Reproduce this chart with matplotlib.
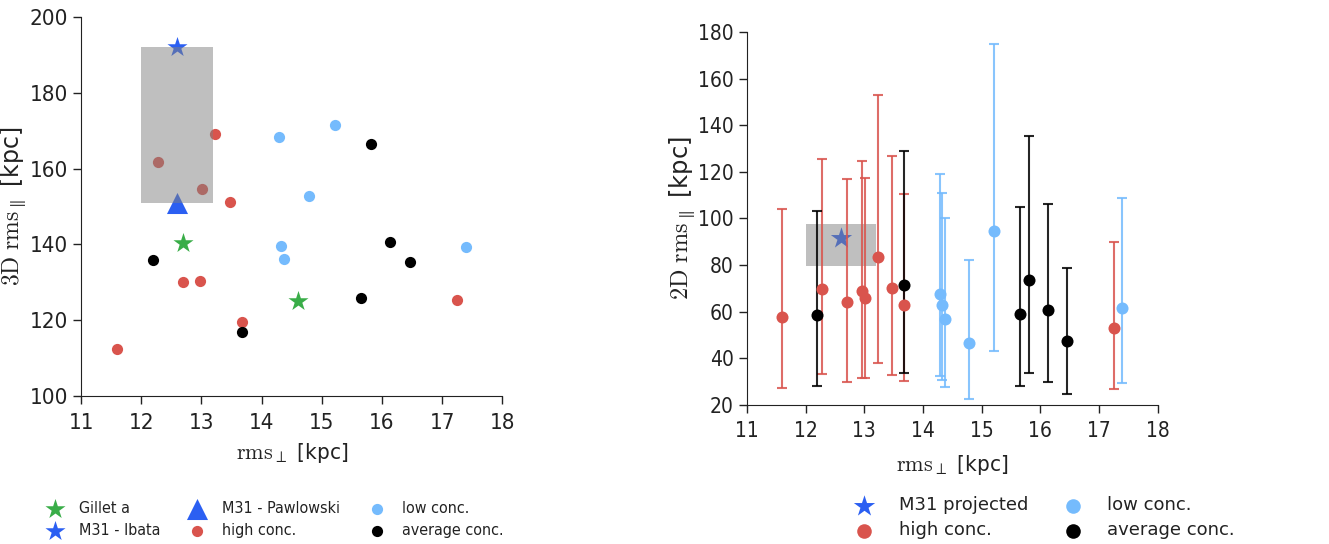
#plane of satellites: rms widths, 3D and projected
import matplotlib.pyplot as plt
from matplotlib.patches import Rectangle
from matplotlib.ticker import MultipleLocator

plt.rcParams['mathtext.fontset'] = 'cm'
plt.rcParams['font.family'] = 'DejaVu Sans'
plt.rcParams['text.color'] = '#222222'
plt.rcParams['axes.labelcolor'] = '#222222'
plt.rcParams['xtick.color'] = '#222222'
plt.rcParams['ytick.color'] = '#222222'

red = '#d9544d'
lblue = '#75bbfd'
green = '#39ad48'
blue = '#2b5ff2'

#observations
gillet_x = [12.70, 14.60]
gillet_y = [140.3, 125.1]
ibata_x = [12.6]
ibata_y = [192.0]
pawlowski_x = [12.6]
pawlowski_y = [151.0]
proj_x = [12.6]
proj_y = [91.4]

#observed range (x0, x1, y0, y1)
box_3d = [12.0, 13.2, 151.0, 192.0]
box_2d = [12.0, 13.2, 79.4, 97.4]

#simulations
high_x = [11.60, 12.28, 12.70, 12.97, 13.01, 13.23, 13.47, 13.68, 17.25]
high_3d = [112.5, 161.7, 130.0, 130.3, 154.6, 169.0, 151.3, 119.5, 125.3]
high_2d = [57.6, 69.9, 64.1, 68.7, 66.0, 83.3, 70.1, 62.7, 53.0]
high_2d_hi = [103.9, 125.3, 116.9, 124.7, 117.4, 153.1, 126.7, 110.4, 90.0]
high_2d_lo = [27.0, 33.0, 29.7, 31.6, 31.4, 38.0, 32.7, 30.1, 26.9]

low_x = [14.29, 14.32, 14.37, 14.78, 15.22, 17.40]
low_3d = [168.2, 139.5, 136.2, 152.8, 171.5, 139.3]
low_2d = [67.6, 63.0, 57.0, 46.3, 94.7, 61.6]
low_2d_hi = [119.0, 111.1, 100.1, 82.1, 175.1, 108.9]
low_2d_lo = [32.4, 30.6, 27.7, 22.3, 43.0, 29.4]

avg_x = [12.19, 13.68, 15.65, 15.81, 16.13, 16.46]
avg_3d = [135.9, 116.9, 125.8, 166.5, 140.5, 135.4]
avg_2d = [58.4, 71.6, 59.1, 73.7, 60.7, 47.3]
avg_2d_hi = [103.3, 129.0, 104.9, 135.6, 106.0, 78.7]
avg_2d_lo = [27.9, 33.7, 28.1, 33.6, 29.6, 24.7]

fig = plt.figure(figsize=(13.29, 5.44), dpi=100)
ax1 = fig.add_axes([0.061, 0.272, 0.317, 0.697])
ax2 = fig.add_axes([0.562, 0.256, 0.309, 0.685])

def style(ax, tsize):
    for s in ['top', 'right']:
        ax.spines[s].set_visible(False)
    for s in ['left', 'bottom']:
        ax.spines[s].set_color('#222222')
    ax.tick_params(direction='out', length=6, width=1, labelsize=tsize, top=False, right=False)
    ax.tick_params(axis='x', pad=6)
    ax.set_xlim(11, 18)
    ax.xaxis.set_major_locator(MultipleLocator(1))
    for t in ax.get_xticklabels() + ax.get_yticklabels():
        t.set_fontstretch('condensed')

#left: 3D
ax1.scatter(gillet_x, gillet_y, marker='*', s=230, color=green, lw=0, label='Gillet a', zorder=2)
ax1.scatter(ibata_x, ibata_y, marker='*', s=230, color=blue, lw=0, label='M31 - Ibata', zorder=2)
ax1.scatter(pawlowski_x, pawlowski_y, marker='^', s=230, color=blue, lw=0, label='M31 - Pawlowski', zorder=2)
ax1.scatter(high_x, high_3d, s=65, color=red, lw=0, label='high conc.', zorder=2)
ax1.scatter(low_x, low_3d, s=65, color=lblue, lw=0, label='low conc.', zorder=2)
ax1.scatter(avg_x, avg_3d, s=65, color='black', lw=0, label='average conc.', zorder=2)
ax1.add_patch(Rectangle((box_3d[0], box_3d[2]), box_3d[1] - box_3d[0], box_3d[3] - box_3d[2],
                        color='gray', alpha=0.5, lw=0, zorder=3))
ax1.set_ylim(100, 200)
style(ax1, 16)
ax1.set_xlabel(r'$\mathrm{rms}_\perp$ [kpc]', fontsize=16, labelpad=6, fontstretch='condensed')
ax1.set_ylabel(r'$\mathrm{3D\ rms}_\parallel$ [kpc]', fontsize=17, labelpad=1)
leg1 = ax1.legend(ncol=3, frameon=False, fontsize=11.5, loc='center left',
                  bbox_to_anchor=(0.023, 0.045), bbox_transform=fig.transFigure,
                  handletextpad=0.55, columnspacing=1.3, labelspacing=0.45, borderpad=0)
for t in leg1.get_texts():
    t.set_fontstretch('condensed')

#right: projected
ax2.scatter(proj_x, proj_y, marker='*', s=260, color=blue, lw=0, label='M31 projected', zorder=1)
ax2.add_patch(Rectangle((box_2d[0], box_2d[2]), box_2d[1] - box_2d[0], box_2d[3] - box_2d[2],
                        color='gray', alpha=0.5, lw=0, zorder=2))
for xs, ys, hi, lo, c, lab in [(high_x, high_2d, high_2d_hi, high_2d_lo, red, 'high conc.'),
                               (low_x, low_2d, low_2d_hi, low_2d_lo, lblue, 'low conc.'),
                               (avg_x, avg_2d, avg_2d_hi, avg_2d_lo, 'black', 'average conc.')]:
    err = [[y - l for y, l in zip(ys, lo)], [h - y for y, h in zip(ys, hi)]]
    ax2.errorbar(xs, ys, yerr=err, fmt='none', ecolor=c, elinewidth=1.5, capsize=3.5,
                 capthick=1.5, alpha=0.85, zorder=3)
    ax2.scatter(xs, ys, s=75, color=c, lw=0, label=lab, zorder=4)
ax2.set_ylim(20, 180)
style(ax2, 15)
ax2.set_xlabel(r'$\mathrm{rms}_\perp$ [kpc]', fontsize=16, labelpad=8, fontstretch='condensed')
ax2.set_ylabel(r'$\mathrm{2D\ rms}_\parallel$ [kpc]', fontsize=17.5, labelpad=1)
leg2 = ax2.legend(ncol=2, frameon=False, fontsize=13, loc='center left',
                  bbox_to_anchor=(0.630, 0.048), bbox_transform=fig.transFigure,
                  handletextpad=0.9, columnspacing=1.5, labelspacing=0.4, borderpad=0)
for h in leg2.legend_handles[1:]:
    h.set_sizes([110])

fig.savefig('out.png', dpi=100)
